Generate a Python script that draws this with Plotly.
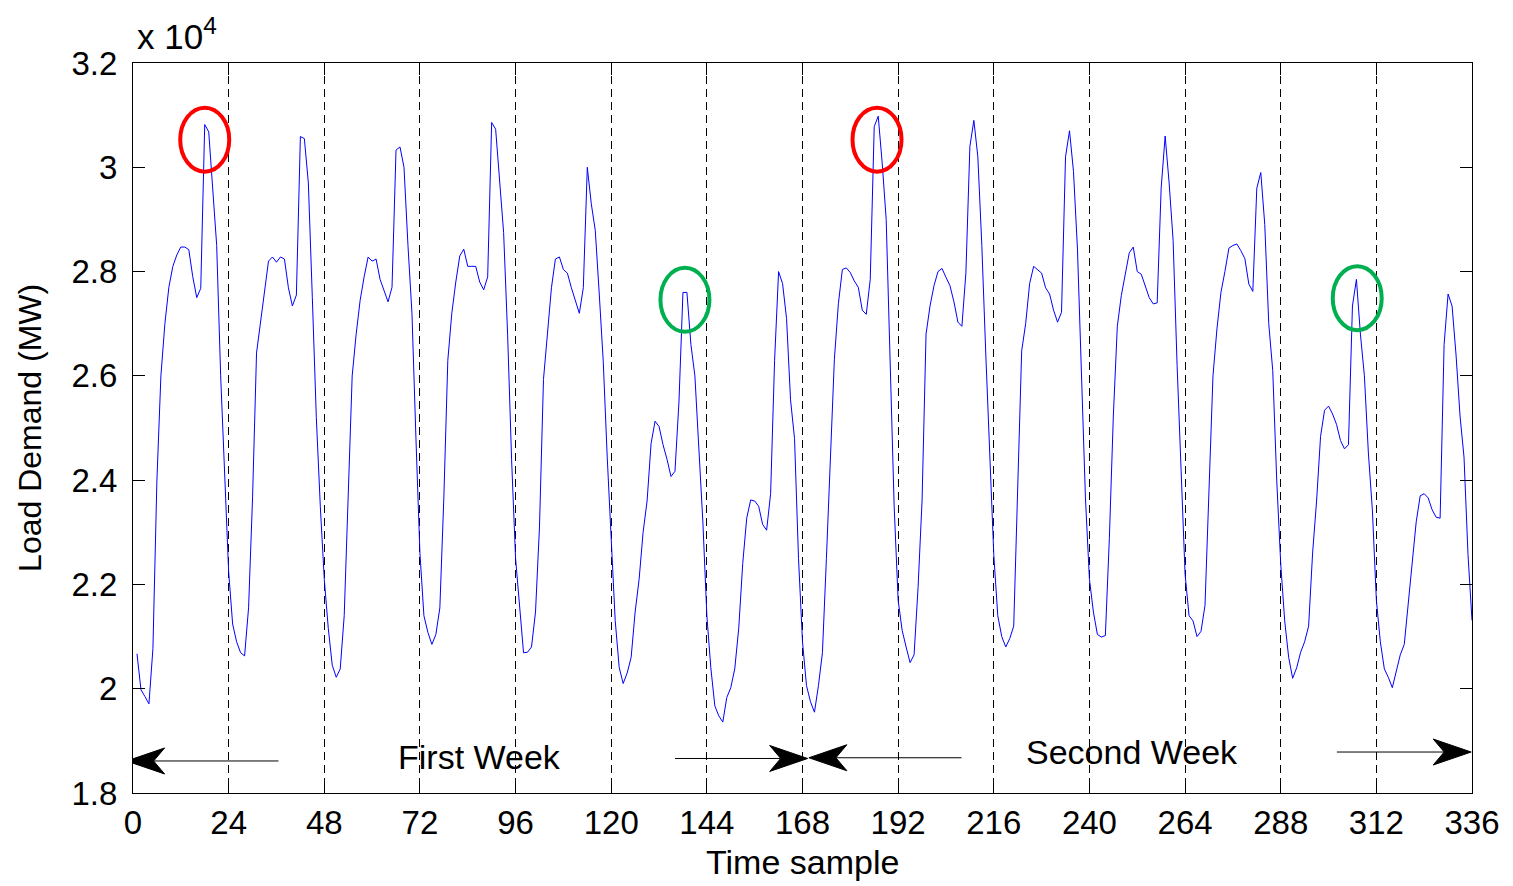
import plotly.graph_objects as go

# Hourly load demand (MW), one list per day, hours 1..24
day01 = [20670, 19980, 19850, 19710, 20770, 24000, 26000, 27000, 27700, 28100, 28320, 28470,
         28470, 28420, 27900, 27500, 27680, 30820, 30680, 29500, 28500, 26000, 24100, 22250]
day02 = [21240, 20900, 20690, 20630, 21550, 23660, 26440, 27030, 27600, 28200, 28280, 28180,
         28280, 28240, 27690, 27340, 27550, 30590, 30550, 29700, 27500, 25200, 23500, 22100]
day03 = [21160, 20450, 20220, 20380, 21400, 23660, 26000, 26800, 27450, 27900, 28280, 28200,
         28240, 27850, 27650, 27420, 27700, 30330, 30390, 30000, 28500, 27200, 24800, 22600]
day04 = [21400, 21080, 20850, 21040, 21550, 23660, 26300, 27200, 27800, 28300, 28430, 28100,
         28100, 28100, 27800, 27650, 27900, 30860, 30730, 29770, 28750, 26800, 24400, 22500]
day05 = [21550, 20690, 20700, 20800, 21470, 23100, 25930, 26870, 27690, 28240, 28280, 28040,
         27970, 27690, 27450, 27200, 27690, 30000, 29300, 28790, 27570, 26280, 24440, 22880]
day06 = [21310, 20410, 20100, 20300, 20600, 21470, 22100, 23000, 23600, 24700, 25130, 25030,
         24680, 24400, 24070, 24170, 25500, 27600, 27600, 26600, 26000, 24600, 23200, 21400]
day07 = [20400, 19670, 19480, 19360, 19830, 20020, 20380, 21160, 22400, 23270, 23620, 23600,
         23500, 23150, 23040, 23740, 26300, 28000, 27770, 27100, 25540, 24800, 22500, 20900]
day08 = [20060, 19750, 19550, 20060, 20690, 22500, 24600, 26320, 27380, 28040, 28070, 27980,
         27820, 27700, 27260, 27180, 27850, 30780, 30980, 30080, 29000, 26000, 23500, 21700]
day09 = [21120, 20800, 20500, 20650, 21940, 23600, 26800, 27340, 27730, 28000, 28060, 27890,
         27730, 27420, 27030, 26950, 27970, 30400, 30900, 30200, 28500, 26400, 24440, 22570]
day10 = [21400, 21000, 20800, 20960, 21200, 24050, 26480, 27000, 27770, 28100, 28040, 27970,
         27690, 27570, 27260, 27030, 27220, 30200, 30700, 29920, 28430, 26000, 23660, 22100]
day11 = [21470, 21040, 20990, 21020, 22880, 25230, 26950, 27540, 27930, 28360, 28470, 28000,
         27950, 27730, 27500, 27380, 27400, 29600, 30600, 29700, 28600, 26200, 24000, 22200]
day12 = [21400, 21300, 21000, 21100, 21600, 24000, 26000, 26900, 27600, 28000, 28450, 28500,
         28530, 28400, 28250, 27760, 27620, 29600, 29900, 28900, 27000, 26100, 24000, 22400]
day13 = [21300, 20600, 20200, 20400, 20700, 20900, 21200, 22600, 23600, 24840, 25340, 25420,
         25270, 25070, 24760, 24600, 24680, 27340, 27850, 26800, 26000, 24520, 23430, 21700]
day14 = [20900, 20380, 20220, 20020, 20340, 20650, 20850, 21630, 22400, 23200, 23700, 23740,
         23660, 23430, 23290, 23270, 26600, 27570, 27340, 26400, 25230, 24440, 22570, 21310]

days = [day01, day02, day03, day04, day05, day06, day07,
        day08, day09, day10, day11, day12, day13, day14]
load_mw = [v for d in days for v in d]
hours = list(range(1, len(load_mw) + 1))

x_ticks = list(range(0, 337, 24))
y_ticks = [18000, 20000, 22000, 24000, 26000, 28000, 30000, 32000]
y_tick_text = ["1.8", "2", "2.2", "2.4", "2.6", "2.8", "3", "3.2"]

# Highlighted samples: (hour, MW, colour)
highlights = [(18.0, 30530, "#ff0000"), (186.7, 30530, "#ff0000"),
              (138.5, 27460, "#00b050"), (307.2, 27490, "#00b050")]

# Week span arrows: (tail hour, tip hour, MW level)
week_arrows = [(36.5, -1.6, 18614), (136.0, 169.3, 18662),
               (207.9, 169.6, 18676), (302.1, 335.8, 18786)]
week_labels = [(87.0, 18700, "First Week"), (250.8, 18790, "Second Week")]

W, H = 1513, 886
ML, MR, MT, MB = 133, 41, 63, 93
X_RANGE = (0, 336)
Y_RANGE = (18000, 32000)
px_per_x = (W - ML - MR) / (X_RANGE[1] - X_RANGE[0])
px_per_y = (H - MT - MB) / (Y_RANGE[1] - Y_RANGE[0])

FONT = "Liberation Sans, Arial, sans-serif"

fig = go.Figure()
fig.add_trace(go.Scatter(x=hours, y=load_mw, mode="lines",
                         line=dict(color="#0000ff", width=1), showlegend=False))

shapes = []
# ellipses around highlighted samples (radii given in pixels)
rx, ry = 24.5 / px_per_x, 32 / px_per_y
for hx, hy, col in highlights:
    shapes.append(dict(type="circle", xref="x", yref="y",
                       x0=hx - rx, x1=hx + rx, y0=hy - ry, y1=hy + ry,
                       line=dict(color=col, width=4)))

# arrows with a notched filled head
head_len, head_w, notch = 38, 26, 11
for tail, tip, lvl in week_arrows:
    d = 1 if tip > tail else -1
    back = tip - d * head_len / px_per_x
    mid = tip - d * (head_len - notch) / px_per_x
    hw = head_w / 2 / px_per_y
    shapes.append(dict(type="line", xref="x", yref="y", x0=tail, x1=mid, y0=lvl, y1=lvl,
                       line=dict(color="black", width=1)))
    shapes.append(dict(type="path", xref="x", yref="y",
                       path=f"M{tip},{lvl} L{back},{lvl + hw} L{mid},{lvl} L{back},{lvl - hw} Z",
                       fillcolor="black", line=dict(color="black", width=1)))

annotations = []
for lx, ly, txt in week_labels:
    annotations.append(dict(x=lx, y=ly, xref="x", yref="y", text=txt, showarrow=False,
                            font=dict(family=FONT, size=34, color="black")))
annotations.append(dict(x=0.0015, y=1.04, xref="paper", yref="paper",
                        text="x 10<sup>4</sup>", showarrow=False, xanchor="left", yanchor="middle",
                        font=dict(family=FONT, size=35, color="black")))
annotations.append(dict(x=0.5, y=-0.095, xref="paper", yref="paper", text="Time sample",
                        showarrow=False, xanchor="center", yanchor="middle",
                        font=dict(family=FONT, size=34, color="black")))
annotations.append(dict(x=-0.077, y=0.5, xref="paper", yref="paper", text="Load Demand (MW)",
                        showarrow=False, textangle=-90, xanchor="center", yanchor="middle",
                        font=dict(family=FONT, size=32, color="black")))

fig.update_layout(
    width=W, height=H, autosize=False,
    margin=dict(l=ML, r=MR, t=MT, b=MB),
    paper_bgcolor="white", plot_bgcolor="white",
    shapes=shapes, annotations=annotations,
    font=dict(family=FONT, size=33, color="black"),
    xaxis=dict(range=list(X_RANGE), tickvals=x_ticks, ticks="inside", ticklen=12,
               tickcolor="black", showline=True, linecolor="black", linewidth=1, mirror="ticks",
               showgrid=True, gridcolor="black", gridwidth=1, griddash="8px,5px",
               zeroline=False, tickfont=dict(family=FONT, size=33), ticklabelstandoff=0),
    yaxis=dict(range=list(Y_RANGE), tickvals=y_ticks, ticktext=y_tick_text, ticks="inside",
               ticklen=12, tickcolor="black", showline=True, linecolor="black", linewidth=1,
               mirror="ticks", showgrid=False, zeroline=False,
               tickfont=dict(family=FONT, size=33), ticklabelstandoff=8),
)

fig.write_html("out.html")
